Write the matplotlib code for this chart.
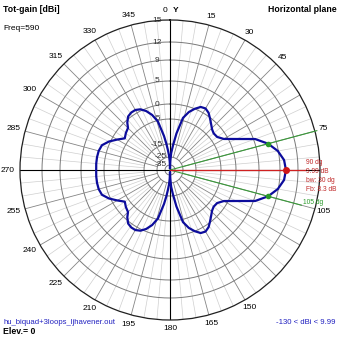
import numpy as np
import matplotlib
matplotlib.use("Agg")
import matplotlib.pyplot as plt

# ---------------- data ----------------
ring_db = [-35, -25, -15, -5, 0, 5, 9, 12, 15]
ring_labels = ["-35", "-25", "-15", "-5", "0", "5", "9", "12", "15"]
# radial scale of the chart (dB -> radius, outer ring = 150)
scale_db = [-45, -35, -25, -15, -5, 0, 5, 9, 12, 15]
scale_r = [0, 5, 13, 26, 51, 66, 89, 110, 128, 150]

angle_labels = ["0", "15", "30", "45", "75", "105", "150", "165", "180", "195",
                "210", "225", "240", "255", "270", "285", "300", "315", "330", "345"]
angle_label_deg = [0, 15, 30, 45, 75, 105, 150, 165, 180, 195,
                   210, 225, 240, 255, 270, 285, 300, 315, 330, 345]

az_deg = [0, 1, 2, 4, 7, 10, 14, 18, 22, 26, 30, 34, 38, 42, 46, 50, 55, 60, 65, 70, 75, 80, 85,
          90, 95, 100, 105, 110, 115, 120, 125, 130, 134, 138, 142, 146, 150, 154, 158, 162, 166,
          170, 173, 176, 178, 179, 180, 181, 182, 184, 186, 188, 190, 194, 198, 202, 206, 210,
          214, 218, 222, 225, 230, 235, 240, 245, 250, 255, 260, 265, 270, 275, 280, 285, 290,
          295, 300, 305, 310, 315, 318, 322, 326, 330, 334, 338, 342, 346, 350, 352, 354, 356,
          358, 359, 360]
gain_dbi = [-41, -35, -30, -21.9, -15.8, -10.6, -4.1, -1.7, 0.0, 0.9, 1.1, 0.65, -0.3, -1.5, -2.5,
            -3.0, -2.8, -1.3, 1.6, 5.3, 7.4, 8.9, 9.75,
            9.99, 9.75, 8.9, 7.4, 5.3, 1.6, -1.3, -2.8, -3.0, -2.5, -1.5, -0.3, 0.65, 1.1, 0.9, 0.0,
            -1.7, -4.1, -10.6, -15.8, -21.9, -30, -35, -41, -35, -30, -23.5, -19.6, -14.6, -11.6,
            -5.4, -2.7, -0.8, 0.33, 0.72, 0.72, 0.43, -0.73, -2.2, -2.8, -3.6, -1.7, 0.3, 1.4, 1.7,
            1.76, 1.75, 1.7, 1.75, 1.76, 1.7, 1.4, 0.3, -1.7, -3.6, -2.8, -2.2, -0.73, 0.43, 0.72,
            0.72, 0.33, -0.8, -2.7, -5.4, -11.6, -14.6, -19.6, -23.5, -30, -35, -41]

max_dir = 90
max_gain = 9.99
bw_dirs = [75, 105]
bw_gain = 7.4

# ---------------- drawing ----------------
W = 339.0
def fx(x):
    return x / W
def fy(y):
    return 1 - y / W

def to_r(db):
    return np.interp(db, scale_db, scale_r)

fig = plt.figure(figsize=(3.39, 3.39), dpi=100)
fig.patch.set_facecolor("white")
cx, cy, R = 170, 170, 150
ax = fig.add_axes([fx(cx - R), fy(cy + R), 2 * R / W, 2 * R / W], projection="polar")
ax.set_theta_zero_location("N")
ax.set_theta_direction(-1)
ax.set_rlim(0, 150)
ax.grid(False)
ax.set_xticks([])
ax.set_yticks([])
ax.spines["polar"].set_color("#202020")
ax.spines["polar"].set_linewidth(0.9)

th = np.linspace(0, 2 * np.pi, 721)
for d in ring_db[:-1]:
    ax.plot(th, np.full_like(th, to_r(d)), color="#7a7a7a", lw=0.7, zorder=1)

for a in range(0, 360, 5):
    t = np.deg2rad(a)
    if a % 90 == 0:
        ax.plot([t, t], [0, 150], color="black", lw=0.8, zorder=2)
    elif a % 15 == 0:
        ax.plot([t, t], [to_r(-25), 150], color="#858585", lw=0.6, zorder=1)
    else:
        ax.plot([t, t], [to_r(-15), 150], color="#cfcfcf", lw=0.5, zorder=0.9)

# ring labels
for d, lab in zip(ring_db, ring_labels):
    dx = -13 if d > -20 else -9
    ax.annotate(lab, xy=(0, to_r(d)), xytext=(dx, 0), textcoords="offset pixels",
                ha="center", va="center", fontsize=6, family="Liberation Sans",
                color="#333333", zorder=3)

# angle labels
for a, lab in zip(angle_label_deg, angle_labels):
    t = np.deg2rad(a)
    if a == 0:
        ax.annotate(lab, xy=(t, 160), xytext=(-5, 0), textcoords="offset pixels",
                    ha="center", va="center", fontsize=6, family="Liberation Sans",
                    annotation_clip=False)
    else:
        rr = 159 + 3 * max(0, -np.sin(t))
        ax.text(t, rr, lab, ha="center", va="center", fontsize=6,
                family="Liberation Sans", clip_on=False)
ax.annotate("Y", xy=(0, 160), xytext=(6, 0), textcoords="offset pixels",
            ha="center", va="center", fontsize=6, fontweight="bold",
            family="Liberation Sans", annotation_clip=False)

# beamwidth / max lines
for d, rend in zip(bw_dirs, [152, 136]):
    t = np.deg2rad(d)
    ax.plot([t, t], [0, rend], color="#3a9a3a", lw=0.8, zorder=3, clip_on=False)
t90 = np.deg2rad(max_dir)
ax.plot([t90, t90], [0, 135], color="#d02020", lw=0.9, zorder=3)

# pattern
ax.plot(np.deg2rad(az_deg), to_r(np.array(gain_dbi)), color="#0c0c9c", lw=1.6, zorder=4)

ax.plot([t90], [to_r(max_gain)], "o", color="#d01818", ms=4, zorder=5)
for d in bw_dirs:
    ax.plot([np.deg2rad(d)], [to_r(bw_gain)], "o", color="#2a9a2a", ms=3, zorder=5)

# texts
fs = 6
fam = "Liberation Sans"
fig.text(fx(3), fy(9), "Tot-gain [dBi]", fontsize=6.3, fontweight="bold", family=fam,
         ha="left", va="center")
fig.text(fx(3), fy(28.5), "Freq=590", fontsize=fs, family=fam, ha="left", va="center")
fig.text(fx(337), fy(9), "Horizontal plane", fontsize=6.3, fontweight="bold", family=fam,
         ha="right", va="center")
fig.text(fx(3), fy(322.5), "hu_biquad+3loops_ljhavener.out", fontsize=5.6, family=fam,
         color="#2020c0", ha="left", va="center")
fig.text(fx(3), fy(331.5), "Elev.= 0", fontsize=6.3, fontweight="bold", family=fam,
         ha="left", va="center")
fig.text(fx(335), fy(323), "-130 < dBi < 9.99", fontsize=5.6, family=fam,
         color="#2020c0", ha="right", va="center")

red = "#c02828"
rfs = 4.8
fig.text(fx(306), fy(163), "90 dg", fontsize=rfs, family=fam, color=red, ha="left", va="center")
fig.text(fx(306), fy(171.5), "9.99 dB", fontsize=rfs, family=fam, color=red, ha="left", va="center")
fig.text(fx(306), fy(180.5), "bw: 30 dg", fontsize=rfs, family=fam, color=red, ha="left", va="center")
fig.text(fx(306), fy(189.5), "Fb: 8.3 dB", fontsize=rfs, family=fam, color=red, ha="left", va="center")
fig.text(fx(303), fy(202), "105 dg", fontsize=rfs, family=fam, color="#2a9a2a", ha="left", va="center")

fig.savefig("out.png", dpi=100, facecolor="white")
